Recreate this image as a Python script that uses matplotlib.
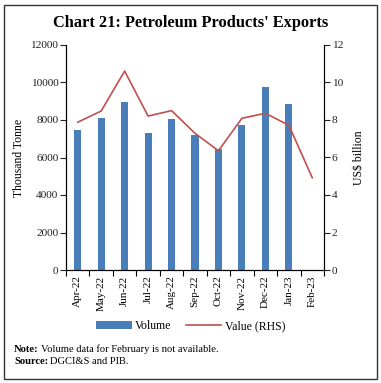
import matplotlib
matplotlib.use('Agg')
import matplotlib.pyplot as plt
import numpy as np
from matplotlib.patches import Rectangle

plt.rcParams['font.family'] = ['Liberation Serif', 'DejaVu Serif']

# Data
months = ['Apr-22', 'May-22', 'Jun-22', 'Jul-22', 'Aug-22', 'Sep-22',
          'Oct-22', 'Nov-22', 'Dec-22', 'Jan-23', 'Feb-23']
volume = [7460, 8090, 8980, 7290, 8040, 7200, 6460, 7730, 9740, 8840, np.nan]
value = [7.88, 8.48, 10.61, 8.21, 8.50, 7.29, 6.36, 8.09, 8.36, 7.72, 4.92]

BAR_COLOR = '#4A7EBB'
LINE_COLOR = '#C0504D'

fig = plt.figure(figsize=(3.81, 3.83), dpi=100)
ax = fig.add_axes([66 / 381, 1 - 270 / 383, (324 - 66) / 381, (270 - 45) / 383])
ax2 = ax.twinx()

x = np.arange(len(months))
ax.bar(x, volume, width=0.3, color=BAR_COLOR, label='Volume')
ax2.plot(x, value, color=LINE_COLOR, lw=1.2, label='Value (RHS)')

ax.set_xlim(-0.5, len(months) - 0.5)
ax.set_ylim(0, 12000)
ax.set_yticks(range(0, 12001, 2000))
ax2.set_ylim(0, 12)
ax2.set_yticks(range(0, 13, 2))

ax.set_xticks(x)
ax.set_xticklabels(months, rotation=90, fontsize=8)
ax.set_xticks(np.arange(-0.5, len(months)), minor=True)
ax.tick_params(axis='x', which='major', length=0, pad=4)
ax.tick_params(axis='x', which='minor', length=4, width=0.8)
ax.tick_params(axis='y', labelsize=8.2, length=4, width=0.8, pad=1.5, colors='#222222')
ax2.tick_params(axis='y', labelsize=8.2, length=4, width=0.8, pad=1.5, colors='#222222')

for a in (ax, ax2):
    a.spines['top'].set_visible(False)
    for s in ('left', 'right', 'bottom'):
        a.spines[s].set_linewidth(0.8)

ax.set_ylabel('Thousand Tonne', fontsize=8.5, labelpad=4)
ax2.set_ylabel('US$ billion', fontsize=8.5, labelpad=7)

h1, l1 = ax.get_legend_handles_labels()
h2, l2 = ax2.get_legend_handles_labels()
fig.legend(h1 + h2, l1 + l2, loc='center', bbox_to_anchor=(0.5, 1 - 326 / 383),
           ncol=2, frameon=False, fontsize=8.5, handlelength=3.0,
           handleheight=0.6, columnspacing=1.2, handletextpad=0.3)

fig.text(0.5, 1 - 23 / 383, "Chart 21: Petroleum Products' Exports",
         ha='center', va='center', fontsize=11.8, fontweight='bold')

# Note / Source lines: bold prefix, then plain text right after it
renderer = fig.canvas.get_renderer()
for ypix, head, body in [(349, 'Note:', 'Volume data for February is not available.'),
                         (362, 'Source:', 'DGCI&S and PIB.')]:
    t = fig.text(14 / 381, 1 - ypix / 383, head, fontsize=7.6,
                 fontweight='bold', va='center')
    w = t.get_window_extent(renderer).width
    fig.text((14 + w + 2) / 381, 1 - ypix / 383, body, fontsize=7.6, va='center')

fig.patches.append(Rectangle((4 / 381, 4 / 383), 373 / 381, 374 / 383,
                             transform=fig.transFigure, fill=False,
                             edgecolor='#333333', lw=1.0))

fig.savefig('out.png', dpi=100)
